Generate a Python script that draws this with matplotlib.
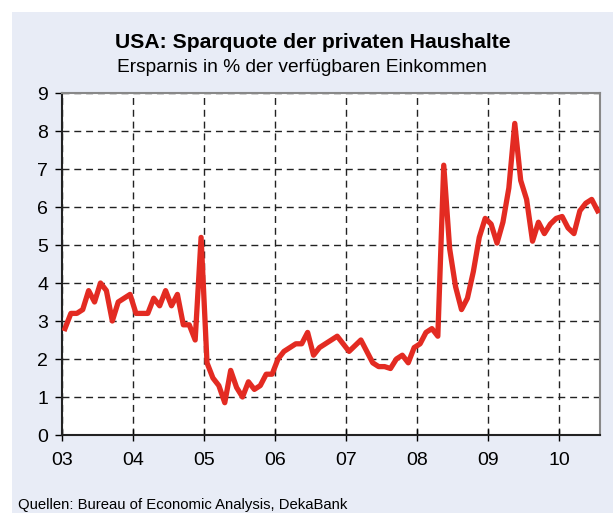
import numpy as np
import matplotlib.pyplot as plt
from matplotlib.patches import Rectangle

# monthly savings rate, Jan 2003 - Jul 2010
rate_2003 = [2.8, 3.2, 3.2, 3.3, 3.8, 3.5, 4.0, 3.8, 3.0, 3.5, 3.6, 3.7]
rate_2004 = [3.2, 3.2, 3.2, 3.6, 3.4, 3.8, 3.4, 3.7, 2.9, 2.9, 2.5, 5.2]
rate_2005 = [1.9, 1.5, 1.3, 0.85, 1.7, 1.25, 1.0, 1.4, 1.2, 1.3, 1.6, 1.6]
rate_2006 = [2.0, 2.2, 2.3, 2.4, 2.4, 2.7, 2.1, 2.3, 2.4, 2.5, 2.6, 2.4]
rate_2007 = [2.2, 2.35, 2.5, 2.2, 1.9, 1.8, 1.8, 1.75, 2.0, 2.1, 1.9, 2.3]
rate_2008 = [2.4, 2.7, 2.8, 2.6, 7.1, 4.9, 3.9, 3.3, 3.6, 4.3, 5.2, 5.7]
rate_2009 = [5.55, 5.05, 5.6, 6.5, 8.2, 6.7, 6.2, 5.1, 5.6, 5.3, 5.55, 5.7]
rate_2010 = [5.75, 5.45, 5.3, 5.9, 6.1, 6.2, 5.9]

values = rate_2003 + rate_2004 + rate_2005 + rate_2006 + rate_2007 + rate_2008 + rate_2009 + rate_2010
months = 2003 + (np.arange(len(values)) + 0.5) / 12

years = list(range(2003, 2011))
year_labels = ["03", "04", "05", "06", "07", "08", "09", "10"]

fig = plt.figure(figsize=(6.13, 5.13), dpi=100, facecolor="white")
fig.patches.append(Rectangle((12 / 613, 0), 1, 1 - 12 / 513, transform=fig.transFigure,
                             facecolor="#E8ECF6", edgecolor="none", zorder=-10))

ax = fig.add_axes([62 / 613, 1 - 435 / 513, 538 / 613, 342 / 513])
ax.set_facecolor("white")

ax.plot(months, values, color="#E32B22", lw=3.8, solid_joinstyle="round", zorder=3)

ax.set_xlim(2003, 2010.575)
ax.set_ylim(0, 9)
ax.set_yticks(range(0, 10))
ax.set_xticks(years)
ax.set_xticklabels(year_labels)

ax.grid(True, color="#222222", lw=1, linestyle=(0, (5, 3.5)))
ax.set_axisbelow(True)

for side in ["top", "right"]:
    ax.spines[side].set_color("#888888")
    ax.spines[side].set_linewidth(1.5)
for side in ["left", "bottom"]:
    ax.spines[side].set_color("#222222")
    ax.spines[side].set_linewidth(1.5)

ax.tick_params(axis="y", direction="out", length=5, width=1, labelsize=14, pad=5)
ax.tick_params(axis="x", direction="inout", length=8, width=1, labelsize=14, pad=8)

fig.text(313 / 613, 1 - 42 / 513, "USA: Sparquote der privaten Haushalte", ha="center", va="center",
         fontsize=15.2, fontweight="bold", family="Liberation Sans")
fig.text(302 / 613, 1 - 68 / 513, "Ersparnis in % der verfügbaren Einkommen", ha="center", va="center",
         fontsize=13.8, family="Liberation Sans")
fig.text(18 / 613, 1 - 505 / 513, "Quellen: Bureau of Economic Analysis, DekaBank", ha="left", va="center",
         fontsize=10.7, family="Liberation Sans")

for lbl in ax.get_xticklabels() + ax.get_yticklabels():
    lbl.set_family("Liberation Sans")

fig.savefig("out.png", dpi=100)
